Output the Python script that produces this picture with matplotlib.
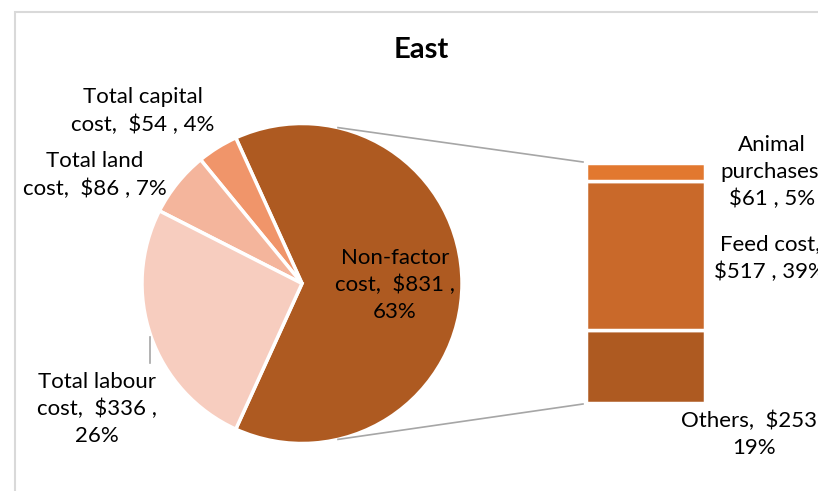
import numpy as np
import matplotlib.pyplot as plt
from matplotlib.patches import Rectangle

plt.rcParams['font.family'] = ['Lato', 'DejaVu Sans']

# data
pie_names = ["Non-factor\ncost", "Total capital\ncost", "Total land\ncost", "Total labour\ncost"]
pie_values = [831, 54, 86, 336]
pie_pcts = [63, 4, 7, 26]
pie_colors = ["#AE5A21", "#F0956A", "#F4B59C", "#F7CDBF"]

bar_names = ["Others", "Feed cost", "Animal\npurchases"]
bar_values = [253, 517, 61]
bar_pcts = [19, 39, 5]
bar_colors = ["#AE5A21", "#C9692A", "#E2782F"]

title = "East"

W, H = 818, 491
fig = plt.figure(figsize=(W / 100, H / 100), dpi=100)
ax = fig.add_axes([0, 0, 1, 1])

# chart border (crop of a bigger chart area)
ax.add_patch(Rectangle((15, -10), W + 20, H - 12 + 10, fill=False,
                       edgecolor="#D9D9D9", linewidth=1.5))

# pie
cx, cy, r = 302, H - 283.5, 160
span = 360 * pie_values[0] / sum(pie_values)
ax.pie(pie_values, colors=pie_colors, startangle=-span / 2, center=(cx, cy),
       radius=r, counterclock=True, frame=True,
       wedgeprops=dict(edgecolor="white", linewidth=2.5))
ax.set_xlim(0, W)
ax.set_ylim(0, H)
ax.set_aspect('equal')
ax.axis('off')

# bar of the split slice
bx, bw = 645.5, 119
scale = 240 / pie_values[0]
bottom = H - 403
heights = np.array(bar_values) * scale
bottoms = bottom + np.concatenate([[0], np.cumsum(heights)[:-1]])
ax.bar(bx, heights, width=bw, bottom=bottoms, color=bar_colors,
       edgecolor="white", linewidth=2.5)

# connector lines
ang = np.deg2rad(77)
top_bar = bottom + heights.sum()
ax.plot([cx + r * np.cos(ang), bx - bw / 2 - 3], [cy + r * np.sin(ang), top_bar + 1],
        color="#A6A6A6", lw=1.2)
ax.plot([cx + r * np.cos(ang), bx - bw / 2 - 3], [cy - r * np.sin(ang), bottom - 1],
        color="#A6A6A6", lw=1.2)

# labels
fs = 16
ls = 1.42
pie_label_pos = [(395, 285), (143, 111), (95, 175), (97, 409)]
pie_fmt = ["{n},  ${v} ,\n{p}%", "{n},  ${v} , {p}%", "{n},  ${v} , {p}%", "{n},  ${v} ,\n{p}%"]
for n, v, p, f, (x, y) in zip(pie_names, pie_values, pie_pcts, pie_fmt, pie_label_pos):
    ax.text(x, H - y, f.format(n=n, v=v, p=p), ha='center', va='center',
            fontsize=fs, color="#000000", linespacing=ls)

# right side labels run past the cropped edge, as in the source image
bar_label_pos = [(754, 434), (770, 258), (772, 172)]
bar_fmt = ["{n},  ${v} ,\n{p}%", "{n},\n${v} , {p}%", "{n},\n${v} , {p}%"]
for n, v, p, f, (x, y) in zip(bar_names, bar_values, bar_pcts, bar_fmt, bar_label_pos):
    ax.text(x, H - y, f.format(n=n, v=v, p=p), ha='center', va='center',
            fontsize=fs, color="#000000", linespacing=ls, clip_on=False)

# labour leader line
ax.plot([150, 150], [H - 337, H - 363], color="#A6A6A6", lw=1.2)

ax.text(421, H - 50, title, ha='center', va='center', fontsize=21,
        fontweight='bold', color="#000000")

fig.savefig("out.png", dpi=100)
